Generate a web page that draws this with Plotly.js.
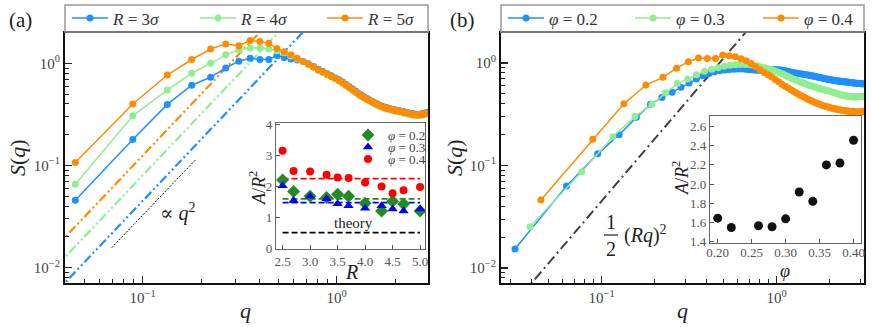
<!DOCTYPE html>
<html>
<head>
<meta charset="utf-8">
<script src="https://cdn.plot.ly/plotly-3.0.1.min.js"></script>
<style>
body{margin:0;padding:0;background:#fff;}
#fig{width:872px;height:327px;}
</style>
</head>
<body>
<div id="fig"></div>
<script>
// panel (a): S(q) for three radii, same q grid
var qA = [0.045,0.089,0.134,0.179,0.224,0.268,0.313,0.358,0.402,0.447,
          0.492,0.536,0.581,0.626,0.671,0.715,0.760,0.805,0.849,0.894,
          0.939,0.983,1.028,1.073,1.118,1.162,1.207,1.252,1.296,1.341,
          1.386,1.430,1.475,1.520,1.565,1.609,1.654,1.699,1.743,1.788,
          1.833,1.877,1.922,1.967,2.012,2.056,2.101,2.146,2.190,2.235,
          2.280,2.324,2.369,2.414,2.459,2.503,2.548,2.593,2.637,2.682,
          2.727,2.771,2.816,2.861,2.906,2.950];
var sR3 = [0.0457,0.180,0.396,0.610,0.730,0.900,1.050,1.120,1.090,1.090,
           1.190,1.140,1.100,1.080,1.050,0.990,0.930,0.875,0.830,0.790,
           0.755,0.720,0.690,0.655,0.620,0.590,0.560,0.532,0.507,0.486,
           0.467,0.452,0.437,0.424,0.412,0.402,0.392,0.383,0.376,0.370,
           0.365,0.360,0.356,0.352,0.349,0.346,0.343,0.340,0.337,0.334,
           0.331,0.328,0.325,0.323,0.321,0.319,0.317,0.316,0.316,0.317,
           0.319,0.321,0.323,0.326,0.329,0.332];
var sR4 = [0.0656,0.306,0.547,0.800,1.000,1.210,1.360,1.410,1.410,1.380,
           1.330,1.270,1.180,1.100,1.040,0.975,0.915,0.855,0.812,0.772,
           0.738,0.708,0.672,0.638,0.603,0.573,0.544,0.519,0.494,0.474,
           0.456,0.441,0.427,0.414,0.402,0.392,0.382,0.373,0.366,0.360,
           0.355,0.351,0.347,0.343,0.340,0.337,0.334,0.331,0.328,0.325,
           0.322,0.319,0.317,0.315,0.313,0.311,0.309,0.308,0.308,0.309,
           0.311,0.313,0.315,0.318,0.321,0.324];
var sR5 = [0.107,0.400,0.768,1.090,1.380,1.550,1.490,1.670,1.640,1.570,
           1.400,1.300,1.210,1.120,1.040,0.980,0.920,0.860,0.820,0.780,
           0.745,0.715,0.680,0.645,0.610,0.580,0.550,0.525,0.500,0.480,
           0.462,0.447,0.433,0.420,0.408,0.398,0.388,0.379,0.372,0.366,
           0.361,0.357,0.353,0.349,0.346,0.343,0.340,0.337,0.334,0.331,
           0.328,0.325,0.322,0.320,0.318,0.316,0.314,0.313,0.313,0.314,
           0.316,0.318,0.320,0.323,0.326,0.329];

// small-q lines 1/2 (Rq)^2, two end points each
var lineQ = [0.035, 0.70];
var lineR3 = [0.00551, 2.205];
var lineR4 = [0.0098, 3.92];
var lineR5 = [0.0153, 6.125];
var slopeQ = [0.0693, 0.188];
var slopeS = [0.0157, 0.1145];

// inset (a)
var insR = [2.5,2.7,3.0,3.3,3.5,3.7,4.0,4.3,4.5,4.7,5.0];
var aPhi02 = [2.20,1.83,1.67,1.63,1.74,1.67,1.45,1.20,1.51,1.42,1.20];
var aPhi03 = [2.01,1.54,1.67,1.59,1.43,1.37,1.29,1.37,1.26,1.20,1.26];
var aPhi04 = [3.14,2.49,2.47,2.37,2.28,2.26,2.12,1.99,1.77,1.87,1.97];
var fitR = [2.5, 5.0];
var fit02 = [1.59, 1.59];
var fit03 = [1.47, 1.47];
var fit04 = [2.24, 2.24];
var fitTheory = [0.5, 0.5];

// panel (b): three packing fractions, R = 3
var qB2 = [0.032,0.063,0.095,0.126,0.158,0.190,0.221,0.253,0.284,0.316,
           0.348,0.379,0.411,0.442,0.474,0.506,0.537,0.569,0.600,0.632,
           0.664,0.695,0.727,0.758,0.790,0.822,0.853,0.885,0.916,0.948,
           0.980,1.011,1.043,1.074,1.106,1.138,1.169,1.201,1.232,1.264,
           1.296,1.327,1.359,1.390,1.422,1.454,1.485,1.517,1.548,1.580,
           1.612,1.643,1.675,1.706,1.738,1.770,1.801,1.833,1.864,1.896,
           1.928,1.959,1.991,2.022,2.054,2.086,2.117,2.149,2.180,2.212,
           2.244,2.275,2.307,2.338,2.370,2.402,2.433,2.465,2.496,2.528,
           2.560,2.591,2.623,2.654,2.686,2.718,2.749,2.781,2.812,2.844,
           2.876,2.907,2.939,2.970,3.002,3.034,3.065,3.097,3.128];
var sP2 = [0.0153,0.063,0.130,0.200,0.295,0.395,0.460,0.520,0.580,0.640,
           0.700,0.750,0.790,0.820,0.840,0.855,0.865,0.870,0.875,0.872,
           0.868,0.862,0.858,0.852,0.848,0.845,0.846,0.850,0.856,0.861,
           0.863,0.862,0.858,0.852,0.845,0.836,0.826,0.817,0.810,0.804,
           0.798,0.792,0.787,0.782,0.777,0.772,0.767,0.762,0.757,0.752,
           0.747,0.742,0.737,0.732,0.727,0.722,0.717,0.712,0.707,0.703,
           0.700,0.696,0.692,0.688,0.684,0.681,0.678,0.675,0.672,0.669,
           0.668,0.666,0.664,0.662,0.660,0.658,0.656,0.655,0.654,0.652,
           0.650,0.648,0.647,0.645,0.643,0.641,0.639,0.637,0.636,0.635,
           0.634,0.633,0.632,0.631,0.630,0.629,0.628,0.627,0.626];
var qB3 = [0.039,0.077,0.116,0.155,0.194,0.232,0.271,0.310,0.348,0.387,
           0.426,0.464,0.503,0.542,0.581,0.619,0.658,0.697,0.735,0.774,
           0.813,0.851,0.890,0.929,0.968,1.006,1.045,1.084,1.122,1.161,
           1.200,1.238,1.277,1.316,1.355,1.393,1.432,1.471,1.509,1.548,
           1.587,1.625,1.664,1.703,1.742,1.780,1.819,1.858,1.896,1.935,
           1.974,2.012,2.051,2.090,2.129,2.167,2.206,2.245,2.283,2.322,
           2.361,2.399,2.438,2.477,2.516,2.554,2.593,2.632,2.670,2.709,
           2.748,2.786,2.825,2.864,2.903,2.941,2.980,3.019,3.057,3.096,
           3.135];
var sP3 = [0.0253,0.087,0.191,0.300,0.396,0.513,0.630,0.700,0.770,0.830,
           0.870,0.900,0.930,0.950,0.960,0.970,0.970,0.965,0.955,0.940,
           0.920,0.900,0.880,0.860,0.840,0.820,0.800,0.780,0.760,0.740,
           0.720,0.700,0.685,0.670,0.655,0.645,0.635,0.625,0.615,0.605,
           0.600,0.590,0.580,0.575,0.565,0.560,0.555,0.550,0.545,0.540,
           0.535,0.530,0.525,0.520,0.515,0.510,0.505,0.500,0.495,0.490,
           0.487,0.484,0.481,0.478,0.476,0.474,0.472,0.470,0.469,0.468,
           0.467,0.467,0.467,0.468,0.469,0.470,0.471,0.472,0.473,0.474,
           0.475];
var qB4 = qA.concat([2.995,3.040,3.084,3.129]);
var sP4 = [0.046,0.180,0.400,0.610,0.725,0.890,1.030,1.120,1.110,1.110,
           1.200,1.180,1.150,1.100,1.050,0.990,0.920,0.860,0.810,0.770,
           0.730,0.690,0.655,0.622,0.595,0.570,0.548,0.528,0.510,0.494,
           0.479,0.465,0.452,0.441,0.431,0.422,0.413,0.405,0.398,0.392,
           0.386,0.381,0.376,0.372,0.368,0.364,0.361,0.358,0.355,0.352,
           0.350,0.348,0.346,0.344,0.342,0.341,0.340,0.338,0.337,0.336,
           0.335,0.334,0.334,0.333,0.333,0.333,0.333,0.334,0.334,0.335];
var lineBq = [0.035, 0.70];
var lineBs = [0.00551, 2.205];

// inset (b)
var insPhi = [0.20,0.22,0.26,0.28,0.30,0.32,0.34,0.36,0.38,0.40];
var insA = [1.645,1.548,1.566,1.555,1.638,1.917,1.82,2.20,2.22,2.457];

var blue = '#1E90FF', lgreen = '#90EE90', orange = '#FF8C00';
var serif = 'Liberation Serif, DejaVu Serif, serif';

// every legend entry sits in its own legend box so it can be placed exactly
function curve(x, y, col, name, xa, ya, lg) {
  return {x: x, y: y, type: 'scatter', mode: 'lines+markers', name: name,
          xaxis: xa, yaxis: ya, legend: lg,
          line: {color: col, width: 1.5}, marker: {color: col, size: 7}};
}
function guide(x, y, col, dash, w, xa, ya) {
  return {x: x, y: y, type: 'scatter', mode: 'lines', showlegend: false,
          xaxis: xa, yaxis: ya, line: {color: col, width: w, dash: dash}, hoverinfo: 'skip'};
}
function pts(x, y, col, sym, sz, name, lg) {
  return {x: x, y: y, type: 'scatter', mode: 'markers', name: name,
          xaxis: 'x2', yaxis: 'y2', legend: lg,
          marker: {color: col, symbol: sym, size: sz}};
}

var dd = '9px,3px,2px,3px,2px,3px';
var data = [
  guide(lineQ, lineR3, blue, dd, 2.2, 'x', 'y'),
  guide(lineQ, lineR4, lgreen, dd, 2.2, 'x', 'y'),
  guide(lineQ, lineR5, orange, dd, 2.2, 'x', 'y'),
  guide(slopeQ, slopeS, '#111', '2px,1.5px', 1, 'x', 'y'),
  curve(qA, sR3, blue, '<i>R</i> = 3<i>σ</i>', 'x', 'y', 'legend'),
  curve(qA, sR4, lgreen, '<i>R</i> = 4<i>σ</i>', 'x', 'y', 'legend2'),
  curve(qA, sR5, orange, '<i>R</i> = 5<i>σ</i>', 'x', 'y', 'legend6'),

  guide(fitR, fit04, 'red', '6px,3px', 1.8, 'x2', 'y2'),
  guide(fitR, fit02, 'forestgreen', '6px,3px', 1.8, 'x2', 'y2'),
  guide(fitR, fit03, 'blue', '6px,3px', 1.8, 'x2', 'y2'),
  guide(fitR, fitTheory, 'black', '6px,3px', 1.8, 'x2', 'y2'),
  pts(insR, aPhi02, 'forestgreen', 'diamond', 10, '<i>φ</i> = 0.2', 'legend3'),
  pts(insR, aPhi03, 'blue', 'triangle-up', 9, '<i>φ</i> = 0.3', 'legend4'),
  pts(insR, aPhi04, 'red', 'circle', 8, '<i>φ</i> = 0.4', 'legend5'),

  guide(lineBq, lineBs, '#404040', '10px,4px,2px,4px', 2, 'x3', 'y3'),
  curve(qB2, sP2, blue, '<i>φ</i> = 0.2', 'x3', 'y3', 'legend7'),
  curve(qB3, sP3, lgreen, '<i>φ</i> = 0.3', 'x3', 'y3', 'legend8'),
  curve(qB4, sP4, orange, '<i>φ</i> = 0.4', 'x3', 'y3', 'legend9'),

  {x: insPhi, y: insA, type: 'scatter', mode: 'markers', showlegend: false,
   xaxis: 'x4', yaxis: 'y4', marker: {color: '#111', size: 9}}
];

var logMinorX = [0.03,0.04,0.05,0.06,0.07,0.08,0.09,0.2,0.3,0.4,0.5,0.6,0.7,0.8,0.9,2,3];
var logMinorY = [0.008,0.009,0.02,0.03,0.04,0.05,0.06,0.07,0.08,0.09,0.2,0.3,0.4,0.5,0.6,0.7,0.8,0.9];

function mainAx(dom, rng, vals, txt, minor, anc) {
  return {type: 'log', domain: dom, range: rng, anchor: anc,
          tickmode: 'array', tickvals: vals, ticktext: txt,
          ticks: 'inside', ticklen: 7, tickwidth: 1.2, tickcolor: '#222',
          showline: true, mirror: true, linecolor: '#111', linewidth: 2,
          showgrid: false, zeroline: false,
          tickfont: {family: serif, size: 15, color: '#444'},
          minor: {tickvals: minor, ticks: 'inside', ticklen: 4, tickwidth: 1, tickcolor: '#222'}};
}
function insAx(dom, rng, vals, txt, anc) {
  return {domain: dom, range: rng, anchor: anc,
          tickmode: 'array', tickvals: vals, ticktext: txt,
          ticks: 'inside', ticklen: 4, tickwidth: 1, tickcolor: '#555',
          showline: true, mirror: true, linecolor: '#666', linewidth: 1.2,
          showgrid: false, zeroline: false,
          tickfont: {family: serif, size: 13, color: '#555'}};
}

var yTicks = [0.01, 0.1, 1];
var yText = ['10<sup>−2</sup>', '10<sup>−1</sup>', '10<sup>0</sup>'];
var xTicks = [0.1, 1];
var xText = ['10<sup>−1</sup>', '10<sup>0</sup>'];

function ann(txt, x, y, size, extra) {
  var a = {text: txt, x: x, y: y, xref: 'paper', yref: 'paper', showarrow: false,
           xanchor: 'center', yanchor: 'middle', font: {family: serif, size: size, color: '#222'}};
  for (var k in extra) { a[k] = extra[k]; }
  return a;
}

var legTop = function(px) {
  return {x: px/872, y: 1 - 18.5/327, xanchor: 'left', yanchor: 'middle',
          bgcolor: 'rgba(0,0,0,0)', borderwidth: 0,
          font: {family: serif, size: 17, color: '#333'}, itemwidth: 36};
};
var legSmall = function(y) {
  return {x: 348/872, y: y, xanchor: 'left', yanchor: 'top', bgcolor: 'rgba(0,0,0,0)',
          borderwidth: 0, font: {family: serif, size: 13, color: '#444'}, itemwidth: 30};
};
function box(x0, x1) {
  return {type: 'rect', xref: 'paper', yref: 'paper', x0: x0/872, x1: x1/872,
          y0: 1 - 32/327, y1: 1 - 5/327, line: {color: '#999', width: 1.5}, fillcolor: 'rgba(0,0,0,0)'};
}

var insX4 = insAx([0.8142, 0.9874], [0.1886, 0.411], [0.2,0.25,0.3,0.35,0.4], ['0.20','0.25','0.30','0.35','0.40'], 'y4');
insX4.ticklabelstandoff = -3;

var layout = {
  width: 872, height: 327,
  margin: {l: 0, r: 0, t: 0, b: 0},
  paper_bgcolor: 'white', plot_bgcolor: 'white',
  font: {family: serif, color: '#333'},
  showlegend: true,
  hovermode: false,
  xaxis: mainAx([0.0745, 0.4908], [-1.40, 0.47], xTicks, xText, logMinorX, 'y'),
  yaxis: mainAx([0.1346, 0.8991], [-2.15, 0.297], yTicks, yText, logMinorY, 'x'),
  xaxis2: insAx([0.3165, 0.4874], [2.38, 5.09], [2.5,3,3.5,4,4.5,5], ['2.5','3.0','3.5','4.0','4.5','5.0'], 'y2'),
  yaxis2: insAx([0.2385, 0.6239], [-0.03, 4.04], [0,1,2,3,4], ['0','1','2','3','4'], 'x2'),
  xaxis3: mainAx([0.5745, 0.9908], [-1.575, 0.499], xTicks, xText, logMinorX, 'y3'),
  yaxis3: mainAx([0.1346, 0.8991], [-2.146, 0.293], yTicks, yText, logMinorY, 'x3'),
  xaxis4: insX4,
  yaxis4: insAx([0.2569, 0.6453], [1.386, 2.71], [1.4,1.6,1.8,2.0,2.2,2.4,2.6], ['1.4','1.6','1.8','2.0','2.2','2.4','2.6'], 'x4'),
  legend: legTop(67),
  legend2: legTop(195),
  legend6: legTop(322),
  legend7: legTop(503),
  legend8: legTop(630),
  legend9: legTop(758),
  legend3: legSmall(1 - 120/327),
  legend4: legSmall(1 - 132/327),
  legend5: legSmall(1 - 144/327),
  annotations: [
    ann('(a)', 20/872, 1 - 20/327, 21),
    ann('(b)', 462/872, 1 - 20/327, 21),
    ann('<i>S</i>(<i>q</i>)', 17/872, 1 - 158/327, 22, {textangle: -90}),
    ann('<i>S</i>(<i>q</i>)', 454/872, 1 - 158/327, 22, {textangle: -90}),
    ann('<i>q</i>', 246/872, 1 - 310/327, 22),
    ann('<i>q</i>', 682/872, 1 - 310/327, 22),
    ann('∝ <i>q</i><sup>2</sup>', 178/872, 1 - 212/327, 20),
    ann('<i>A</i>/<i>R</i><sup>2</sup>', 257/872, 1 - 188/327, 18, {textangle: -90}),
    ann('<i>R</i>', 351/872, 1 - 272/327, 20),
    ann('theory', 3.79, 0.8, 15, {xref: 'x2', yref: 'y2'}),
    ann('<i>A</i>/<i>R</i><sup>2</sup>', 680/872, 1 - 178/327, 18, {textangle: -90}),
    ann('<i>φ</i>', 785/872, 1 - 271/327, 18),
    ann('1', 611/872, 1 - 222/327, 20),
    ann('2', 611/872, 1 - 249/327, 20),
    ann('(<i>Rq</i>)<sup>2</sup>', 645/872, 1 - 235/327, 20)
  ],
  shapes: [
    box(65, 428),
    box(501, 864),
    {type: 'line', xref: 'paper', yref: 'paper', x0: 604/872, x1: 618/872,
     y0: 1 - 235/327, y1: 1 - 235/327, line: {color: '#222', width: 1.2}}
  ]
};

Plotly.newPlot('fig', data, layout, {staticPlot: true, displayModeBar: false});
</script>
</body>
</html>
